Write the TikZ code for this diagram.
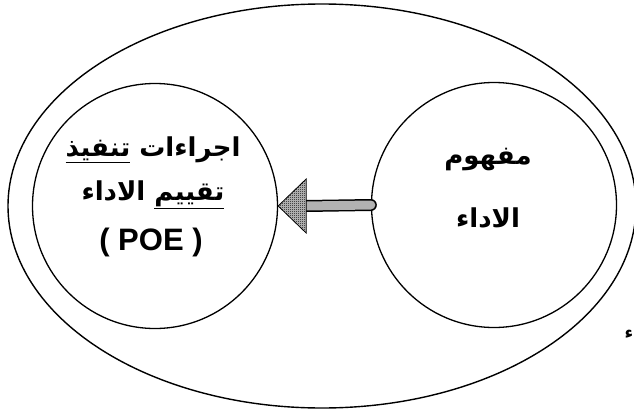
\documentclass[tikz,border=0pt]{standalone}
\usepackage{fontspec}
\setmainfont{Liberation Sans}
\newfontfamily\arabicfont[Script=Arabic]{DejaVu Sans}
\TeXXeTstate=1
\usetikzlibrary{calc,patterns.meta}

% fine black/white checker used for the arrow head
\tikzdeclarepattern{
  name=finecheck,
  type=uncolored,
  bottom left={(0pt,0pt)},
  top right={(2pt,2pt)},
  tile size={(2pt,2pt)},
  code={
    \pgfpathrectangle{\pgfpointorigin}{\pgfqpoint{1pt}{1pt}}
    \pgfpathrectangle{\pgfqpoint{1pt}{1pt}}{\pgfqpoint{1pt}{1pt}}
    \pgfusepath{fill}
  }
}

\tikzset{
  ring/.style={draw=black, line width=1.4pt},
  bubble/.style={circle, draw=black, line width=1.3pt, minimum size=245pt, inner sep=0pt},
  artext/.style={font=\arabicfont\bfseries\fontsize{26}{30}\selectfont, align=center},
  shaftout/.style={line width=12pt, black, line cap=round},
  shaftin/.style={line width=9pt, gray!60, line cap=round},
  headfill/.style={fill=gray!45},
  headtip/.style={draw=black, line width=0.8pt, pattern=finecheck, pattern color=black}
}

\begin{document}
\begin{tikzpicture}[x=1pt, y=-1pt]
  \useasboundingbox (0,0) rectangle (634,412);

  % enclosing ellipse
  \draw[ring] (322,206) ellipse [x radius=314, y radius=202];

  % the two circles
  \node[bubble] (poe) at (155,206) {};
  \node[bubble] (concept) at (494,205) {};

  % labels of the left circle
  \node[artext] (l1) at (153,150) {\beginR اجراءات \underline{تنفيذ}\endR};
  \node[artext] (l2) at (153,195) {\beginR \underline{تقييم} الاداء\endR};
  \node[font=\bfseries\fontsize{31}{34}\selectfont] (l3) at (151,242) {( POE )};

  % labels of the right circle
  \node[artext] (r1) at (488,160) {\beginR مفهوم\endR};
  \node[artext] (r2) at (488,218) {\beginR الاداء\endR};

  % stray mark at the right
  \node[font=\arabicfont\bfseries\fontsize{17}{19}\selectfont] (hz) at (629,334) {\beginR ء\endR};

  % arrow from the right circle to the left one
  \coordinate (headbase) at ($(poe.east)+(28,0)$);
  \draw[shaftout] (concept.west) -- (headbase);
  \draw[shaftin] (concept.west) -- (headbase);
  \fill[headfill] (poe.east) -- ($(poe.east)+(28,-27)$) -- ($(poe.east)+(28,27)$) -- cycle;
  \draw[headtip] (poe.east) -- ($(poe.east)+(28,-27)$) -- ($(poe.east)+(28,27)$) -- cycle;
\end{tikzpicture}
\end{document}
